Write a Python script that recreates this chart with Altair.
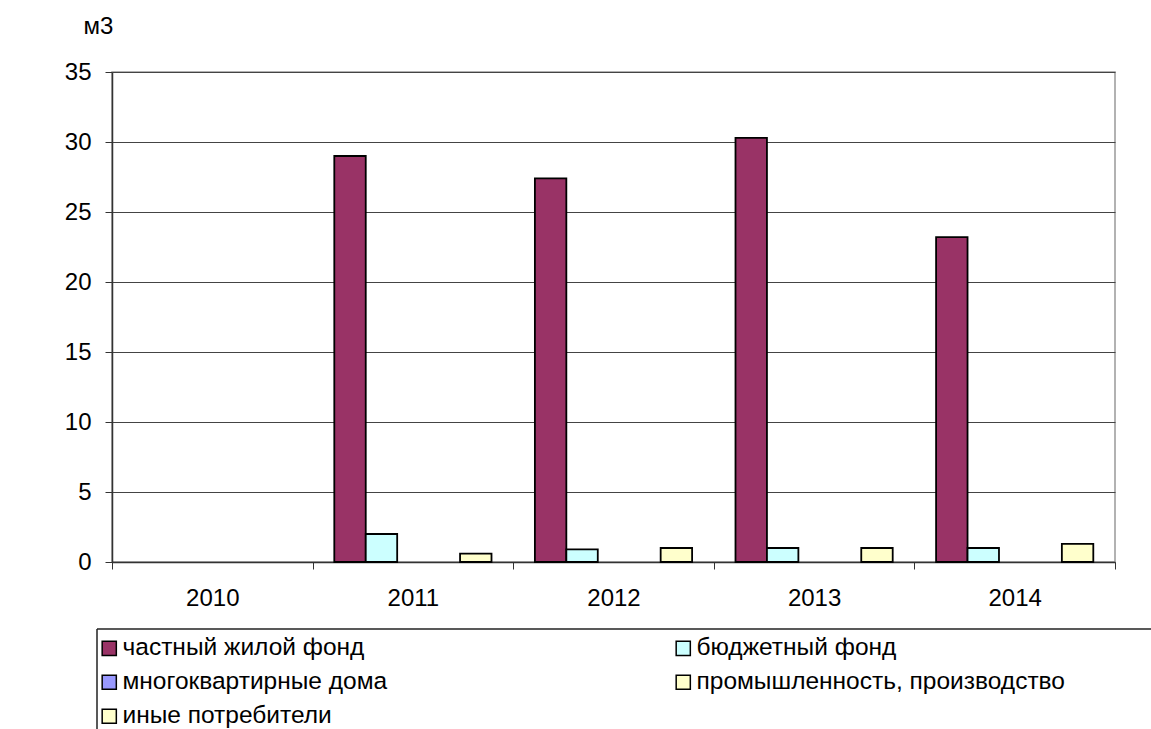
import altair as alt
import pandas as pd

years = ["2010", "2011", "2012", "2013", "2014"]
series = ["частный жилой фонд", "бюджетный фонд", "многоквартирные дома",
          "промышленность, производство", "иные потребители"]
colors = ["#993366", "#CCFFFF", "#9999FF", "#FFFFCC", "#FFFFCC"]

chastny = [0, 29.0, 27.4, 30.3, 23.2]
budget = [0, 2.0, 0.9, 1.0, 1.0]
mkd = [0, 0, 0, 0, 0]
prom = [0, 0, 0, 0, 0]
inye = [0, 0.6, 1.0, 1.0, 1.3]

values = [chastny, budget, mkd, prom, inye]
rows = []
for s, vals in zip(series, values):
    for y, v in zip(years, vals):
        rows.append({"year": y, "series": s, "value": v})
df = pd.DataFrame(rows)

# legend lays entries out column by column: reorder so rows read like the reference
legend_order = [0, 2, 4, 1, 3]
legend_domain = [series[i] for i in legend_order]
legend_range = [colors[i] for i in legend_order]

FONT = "Liberation Sans"

bars = alt.Chart(df).mark_bar(stroke="black", strokeWidth=1.8).encode(
    x=alt.X("year:N", sort=years,
            scale=alt.Scale(paddingInner=0, paddingOuter=0),
            axis=alt.Axis(title=None, labelAngle=0, tickBand="extent", tickSize=7,
                          labelPadding=17, labelFontSize=24, grid=False,
                          domainColor="#333", tickColor="#333", domainWidth=1.5)),
    xOffset=alt.XOffset("series:N", sort=series,
                        scale=alt.Scale(domain=series, paddingOuter=0.69, paddingInner=0)),
    y=alt.Y("value:Q",
            scale=alt.Scale(domain=[0, 35], nice=False),
            axis=alt.Axis(values=[0, 5, 10, 15, 20, 25, 30, 35], tickSize=7,
                          labelPadding=14, labelFontSize=24, grid=True,
                          gridColor="#444", gridWidth=1,
                          domainColor="#333", tickColor="#333", domainWidth=1.5,
                          title="м3", titleAngle=0, titleX=-29, titleY=-46,
                          titleAlign="left", titleBaseline="middle",
                          titleFontWeight="normal", titleFontSize=24)),
    color=alt.Color("series:N",
                    scale=alt.Scale(domain=legend_domain, range=legend_range),
                    legend=alt.Legend(title=None, orient="none", legendX=-15, legendY=564,
                                      columns=2, columnPadding=283, rowPadding=9,
                                      symbolType="square", symbolSize=200,
                                      symbolStrokeColor="black", symbolStrokeWidth=1.5,
                                      symbolOpacity=1,
                                      labelFontSize=24.5, labelOffset=1, labelLimit=700)),
    opacity=alt.condition("datum.value > 0", alt.value(1), alt.value(0)),
)

one = pd.DataFrame({"a": [0]})
top_line = alt.Chart(one).mark_rule(color="#222", strokeWidth=1.5).encode(
    x=alt.value(-15), x2=alt.value(1039), y=alt.value(557))
left_line = alt.Chart(one).mark_rule(color="#222", strokeWidth=1.5).encode(
    x=alt.value(-15), y=alt.value(557), y2=alt.value(657))

chart = alt.layer(bars, top_line, left_line).properties(
    width=1003, height=490,
    autosize=alt.AutoSizeParams(type="none"),
    padding={"left": 112, "top": 72, "right": 36, "bottom": 167},
    background="white",
).configure(font=FONT).configure_view(
    stroke="#999", strokeWidth=1.5
).configure_axis(labelColor="black", titleColor="black", labelFont=FONT, titleFont=FONT
).configure_legend(labelColor="black", labelFont=FONT)

chart.save("out.html", embed_options={"renderer": "svg", "actions": False})
